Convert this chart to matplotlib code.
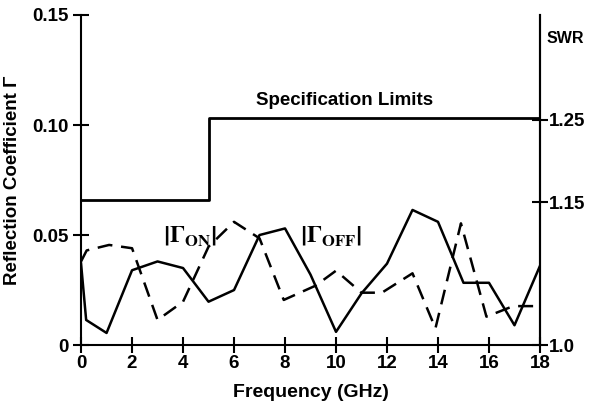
import matplotlib
matplotlib.use("Agg")
from matplotlib import pyplot as plt

# data
freq = [0, 0.2, 1, 2, 3, 4, 5, 6, 7, 8, 9, 10, 11, 12, 13, 14, 15, 16, 17, 18]
gamma_solid = [0.037, 0.0114, 0.0055, 0.034, 0.038, 0.035, 0.0197, 0.025, 0.050, 0.053,
               0.032, 0.006, 0.0235, 0.037, 0.0614, 0.056, 0.0283, 0.0283, 0.009, 0.036]

freq_dash = [0, 0.22, 1.1, 2.0, 3.0, 4.0, 5.0, 6.0, 7.0, 7.95, 9.2, 10.0, 11.0, 11.8,
             13.0, 13.9, 14.9, 15.9, 16.95, 18]
gamma_dash = [0.038, 0.043, 0.0455, 0.044, 0.0114, 0.0197, 0.0447, 0.056, 0.0485, 0.0205,
              0.027, 0.0338, 0.0238, 0.0238, 0.0326, 0.0076, 0.0553, 0.0129, 0.0177, 0.0177]

spec_freq = [0, 5, 5, 18]
spec_gamma = [0.066, 0.066, 0.103, 0.103]

x_ticks = [0, 2, 4, 6, 8, 10, 12, 14, 16, 18]
y_ticks = [0, 0.05, 0.10, 0.15]
y_tick_labels = ["0", "0.05", "0.10", "0.15"]
swr_pos = [0, 0.065, 0.1023]
swr_labels = ["1.0", "1.15", "1.25"]

plt.rcParams['font.family'] = ['Liberation Sans', 'DejaVu Sans']
plt.rcParams['font.weight'] = 'bold'
plt.rcParams['mathtext.fontset'] = 'stix'

fig = plt.figure(figsize=(5.96, 4.05), dpi=100)
ax = fig.add_axes([0.136, 0.148, 0.770, 0.815])

ax.plot(spec_freq, spec_gamma, color='black', lw=2.0)
ax.plot(freq, gamma_solid, color='black', lw=1.8)
ax.plot(freq_dash, gamma_dash, color='black', lw=1.8, dashes=(6, 3.5))

ax.set_xlim(0, 18)
ax.set_ylim(0, 0.15)
ax.set_xticks(x_ticks)
ax.set_yticks(y_ticks)
ax.set_yticklabels(y_tick_labels)
ax.spines['top'].set_visible(False)
for s in ['left', 'bottom', 'right']:
    ax.spines[s].set_linewidth(1.5)
ax.tick_params(direction='inout', length=11, width=1.5, labelsize=13.5)
ax.tick_params(axis='x', pad=2)

ax.set_xlabel('Frequency (GHz)', fontsize=14, fontweight='bold', labelpad=8)
ax.set_ylabel('Reflection Coefficient Γ', fontsize=13.5, fontweight='bold', labelpad=8)

ax2 = ax.twinx()
ax2.set_ylim(0, 0.15)
ax2.set_yticks(swr_pos)
ax2.set_yticklabels(swr_labels)
ax2.tick_params(direction='inout', length=11, width=1.5, labelsize=13.5, pad=1)
for s in ['top', 'left', 'bottom']:
    ax2.spines[s].set_visible(False)
ax2.spines['right'].set_linewidth(1.5)

ax.text(10.35, 0.111, 'Specification Limits', ha='center', va='center', fontsize=13.5,
        fontweight='bold')
fig.text(0.948, 0.906, 'SWR', ha='center', va='center', fontsize=11.5, fontweight='bold')
ax.text(4.25, 0.0495, r'$\left|\Gamma_{\mathbf{ON}}\right|$', ha='center', va='center', fontsize=17)
ax.text(9.8, 0.0495, r'$\left|\Gamma_{\mathbf{OFF}}\right|$', ha='center', va='center', fontsize=17)

fig.savefig('out.png', dpi=100)
